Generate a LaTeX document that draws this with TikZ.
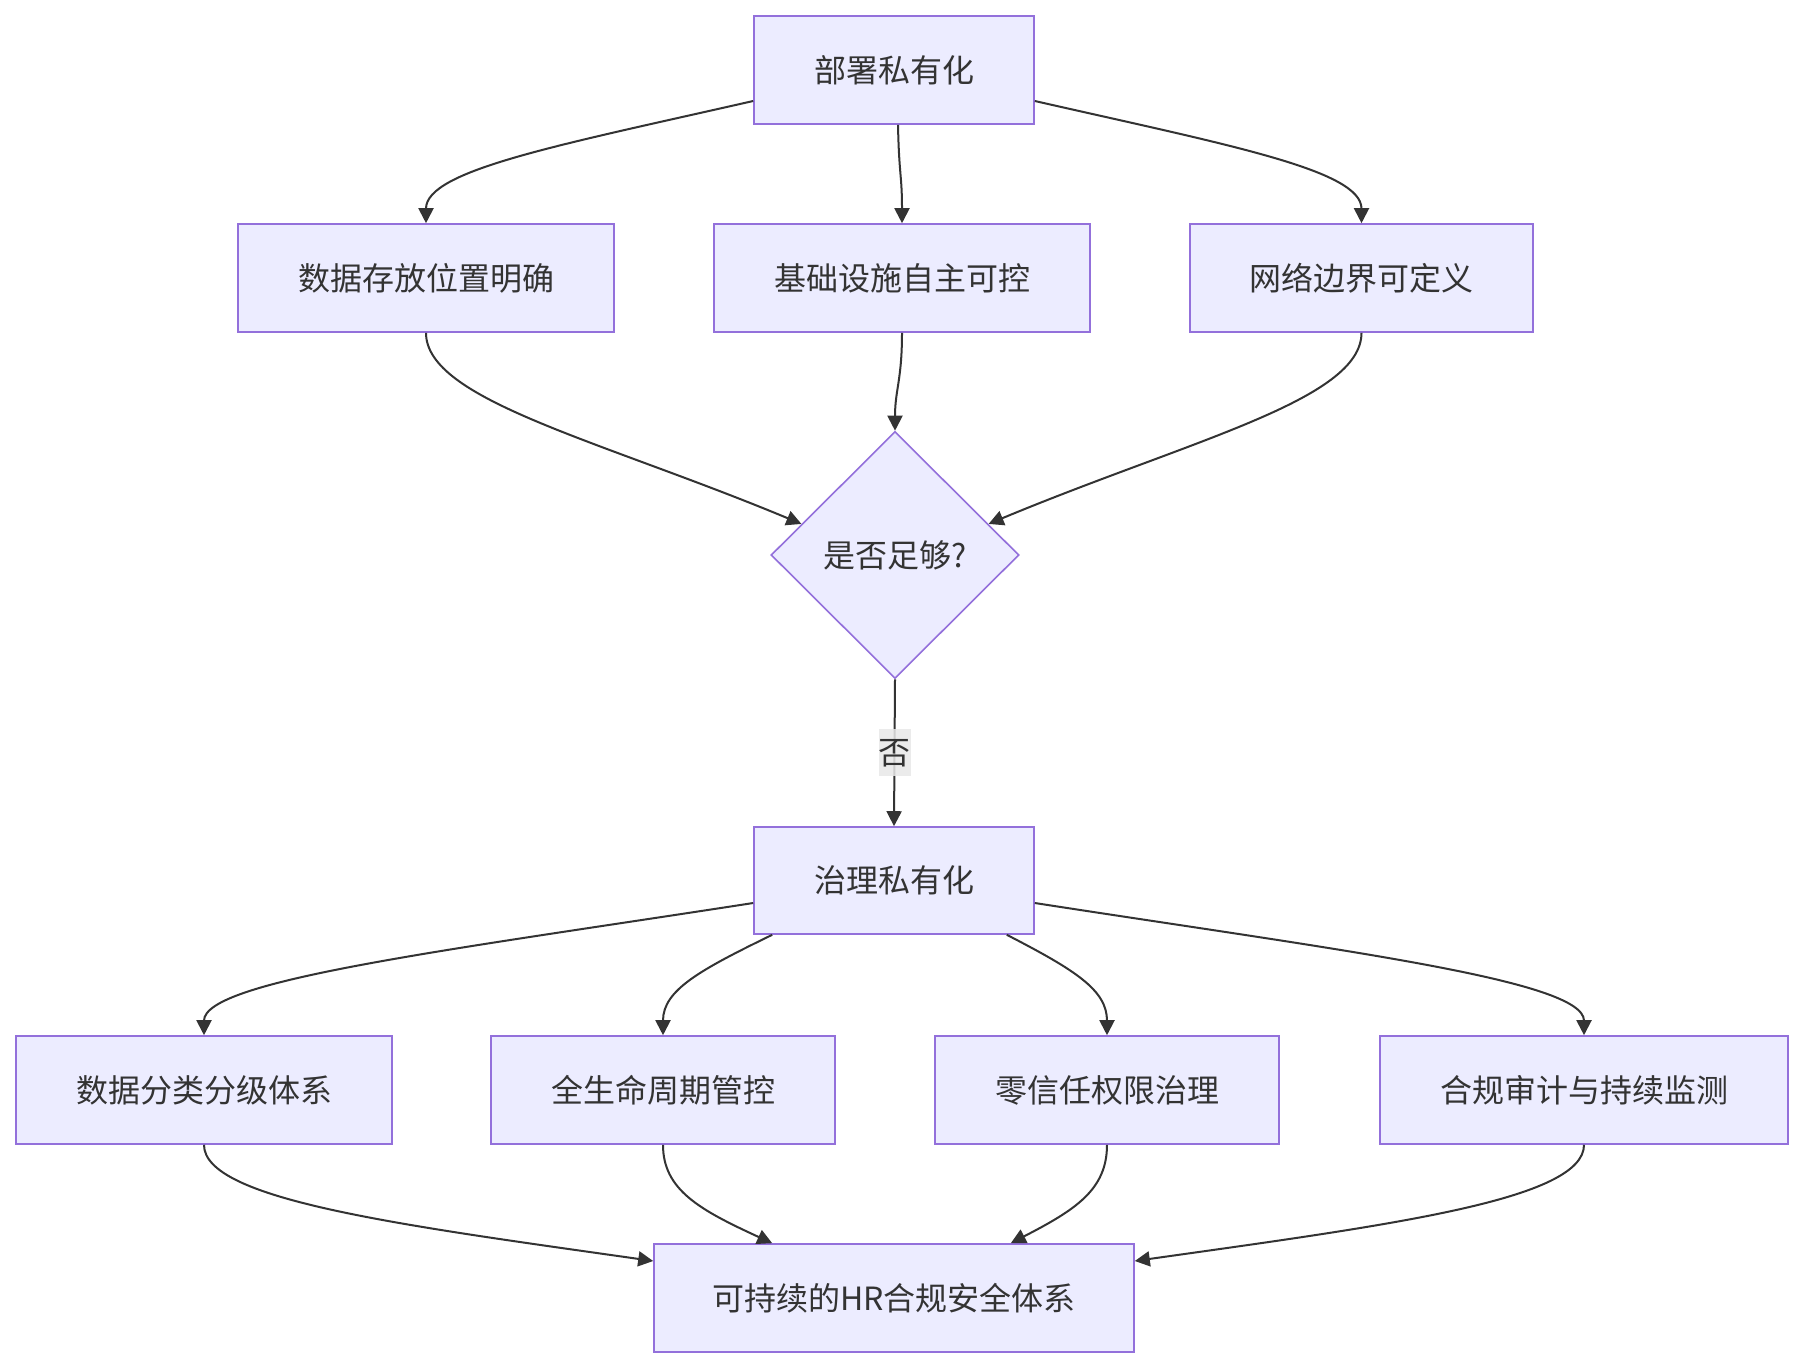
\documentclass[tikz,border=0pt]{standalone}
\usepackage{fontspec}
\setmainfont{Noto Sans CJK SC}
\usetikzlibrary{shapes.geometric,arrows.meta,calc}
\definecolor{boxfill}{HTML}{ECECFF}
\definecolor{boxline}{HTML}{9370DB}
\definecolor{edgec}{HTML}{333333}
\definecolor{txt}{HTML}{333333}
\definecolor{labelbg}{HTML}{E8E8E8}
\begin{document}
\begin{tikzpicture}[x=1pt,y=-1pt,
  every node/.style={font=\fontsize{32pt}{38pt}\selectfont, text=txt},
  box/.style={draw=boxline, fill=boxfill, line width=1.6pt, rectangle, inner sep=0pt, minimum height=108pt},
  dec/.style={draw=boxline, fill=boxfill, line width=1.6pt, diamond, aspect=1, inner sep=0pt, minimum width=248pt, minimum height=247pt},
  edge/.style={draw=edgec, line width=2pt, -{Triangle[length=15pt,width=15pt]}},
  lbl/.style={fill=labelbg, fill opacity=0.85, text opacity=1, inner sep=0pt, minimum width=32pt, minimum height=47pt}
]
\useasboundingbox (0,0) rectangle (1804,1367);
\fill[white] (0,0) rectangle (1804,1367);

\node[box, minimum width=280pt] (top) at (894,70) {部署私有化};
\node[box, minimum width=376pt] (b2) at (426,278) {数据存放位置明确};
\node[box, minimum width=376pt] (b3) at (902,278) {基础设施自主可控};
\node[box, minimum width=343pt] (b4) at (1361.5,278) {网络边界可定义};
\node[dec] (dia) at (895,555) {是否足够?};
\node[box, minimum width=280pt, minimum height=107pt] (gov) at (894,880.5) {治理私有化};
\node[box, minimum width=376pt] (c1) at (204,1090) {数据分类分级体系};
\node[box, minimum width=344pt] (c2) at (663,1090) {全生命周期管控};
\node[box, minimum width=344pt] (c3) at (1107,1090) {零信任权限治理};
\node[box, minimum width=408pt] (c4) at (1584,1090) {合规审计与持续监测};
\node[box, minimum width=480pt] (fin) at (894,1298) {可持续的HR合规安全体系};

\draw[edge] ($(top.west)+(0,31)$) .. controls (560,145) and (426,170) .. (b2.north);
\draw[edge] ($(top.south)+(4,0)$) .. controls (899,175) and (902,175) .. (b3.north);
\draw[edge] ($(top.east)+(0,31)$) .. controls (1228,145) and (1361.5,170) .. (b4.north);

\draw[edge] (b2.south) .. controls (426,400) and (600,440) .. ($(dia.west)!0.25!(dia.north)$);
\draw[edge] (b3.south) .. controls (902,380) and (895,390) .. (dia.north);
\draw[edge] (b4.south) .. controls (1361.5,400) and (1190,440) .. ($(dia.east)!0.25!(dia.north)$);

\draw[edge] (dia.south) -- node[lbl] (no) {否} (gov.north);

\draw[edge] ($(gov.west)+(0,22.5)$) .. controls (450,950) and (204,980) .. (c1.north);
\draw[edge] ($(gov.south west)+(19,0)$) .. controls (700,970) and (663,990) .. (c2.north);
\draw[edge] ($(gov.south east)+(-28,0)$) .. controls (1075,970) and (1107,990) .. (c3.north);
\draw[edge] ($(gov.east)+(0,22.5)$) .. controls (1338,950) and (1584,980) .. (c4.north);

\draw[edge] (c1.south) .. controls (204,1200) and (400,1225) .. ($(fin.west)+(0,-37)$);
\draw[edge] (c2.south) .. controls (663,1190) and (700,1210) .. ($(fin.north west)+(119,0)$);
\draw[edge] (c3.south) .. controls (1107,1190) and (1075,1210) .. ($(fin.north east)+(-124,0)$);
\draw[edge] (c4.south) .. controls (1584,1200) and (1390,1225) .. ($(fin.east)+(0,-37)$);
\end{tikzpicture}
\end{document}
